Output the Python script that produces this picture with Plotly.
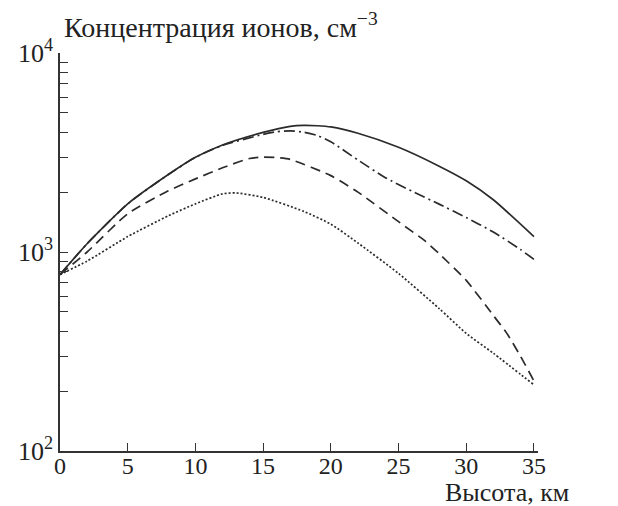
import plotly.graph_objects as go

# Heights, km / ion concentration, cm^-3
height_solid = [0, 2, 5, 8, 10, 12, 15, 17, 18, 19, 20, 22, 25, 28, 30, 32, 35]
conc_solid = [770, 1100, 1745, 2450, 2990, 3450, 3990, 4280, 4330, 4310, 4250, 3950, 3360, 2700, 2280, 1830, 1195]

height_dashdot = [0, 2, 5, 8, 10, 12, 15, 16, 17, 18, 19, 20, 22, 24, 26, 28, 30, 32, 34, 35]
conc_dashdot = [770, 1100, 1745, 2450, 2990, 3430, 3900, 4020, 4060, 4000, 3850, 3580, 2900, 2370, 2020, 1740, 1490, 1260, 1030, 918]

height_dashed = [0, 2, 5, 8, 10, 12, 14, 15, 16, 17, 20, 22, 25, 27, 28, 30, 32, 33, 34, 35]
conc_dashed = [770, 1000, 1556, 2030, 2330, 2650, 2950, 3000, 2980, 2920, 2420, 2000, 1420, 1130, 980, 720, 480, 390, 300, 225]

height_dotted = [0, 2, 5, 8, 10, 12, 13, 15, 18, 20, 22, 25, 28, 30, 32, 35]
conc_dotted = [770, 900, 1195, 1520, 1745, 1960, 1980, 1880, 1600, 1380, 1110, 780, 520, 390, 310, 215]

y_major = [100, 1000, 10000]
y_major_text = ["10<sup>2</sup>", "10<sup>3</sup>", "10<sup>4</sup>"]
y_minor = [200, 300, 400, 500, 600, 700, 800, 900,
           2000, 3000, 4000, 5000, 6000, 7000, 8000, 9000]
x_ticks = [0, 5, 10, 15, 20, 25, 30, 35]

series = [
    (height_solid, conc_solid, "solid"),
    (height_dashdot, conc_dashdot, "11px,4px,2px,4px"),
    (height_dashed, conc_dashed, "10px,6px"),
    (height_dotted, conc_dotted, "2px,2px"),
]

fig = go.Figure()
for xs, ys, dash in series:
    fig.add_trace(go.Scatter(x=xs, y=ys, mode="lines",
                             line=dict(color="#2b2b2b", width=1.7, dash=dash, shape="spline", smoothing=0.6),
                             showlegend=False, hoverinfo="skip"))

font_family = "Liberation Serif, Times New Roman, serif"

fig.update_layout(
    width=618, height=506,
    margin=dict(l=52, r=88, t=45, b=63),
    plot_bgcolor="white", paper_bgcolor="white",
    font=dict(family=font_family, size=24, color="#222222"),
    xaxis=dict(range=[0, 35.3], tickvals=x_ticks, ticks="inside", ticklen=8, tickwidth=1.2,
               tickcolor="#333333", showline=True, linecolor="#333333", linewidth=1.5,
               showgrid=False, zeroline=False, tickfont=dict(size=24), automargin=False,
               ticklabelstandoff=-8),
    yaxis=dict(type="log", range=[2, 4], tickvals=y_major, ticktext=y_major_text, ticks="inside",
               ticklen=8, tickwidth=1.2, tickcolor="#333333", showline=True, linecolor="#333333",
               linewidth=1.5, showgrid=False, zeroline=False, tickfont=dict(size=26), automargin=False,
               minor=dict(tickvals=y_minor, ticks="inside", ticklen=8, tickwidth=1.2,
                          tickcolor="#333333", showgrid=False)),
    annotations=[
        dict(text="Концентрация ионов, см<sup>−3</sup>", xref="paper", yref="paper",
             x=0.005, y=1.02, xanchor="left", yanchor="bottom", showarrow=False,
             font=dict(size=28, family=font_family, color="#222222")),
        dict(text="Высота, км", xref="paper", yref="paper",
             x=1.07, y=-0.1457, xanchor="right", yanchor="bottom", showarrow=False,
             font=dict(size=26, family=font_family, color="#222222")),
    ],
)

fig.write_html("out.html")
